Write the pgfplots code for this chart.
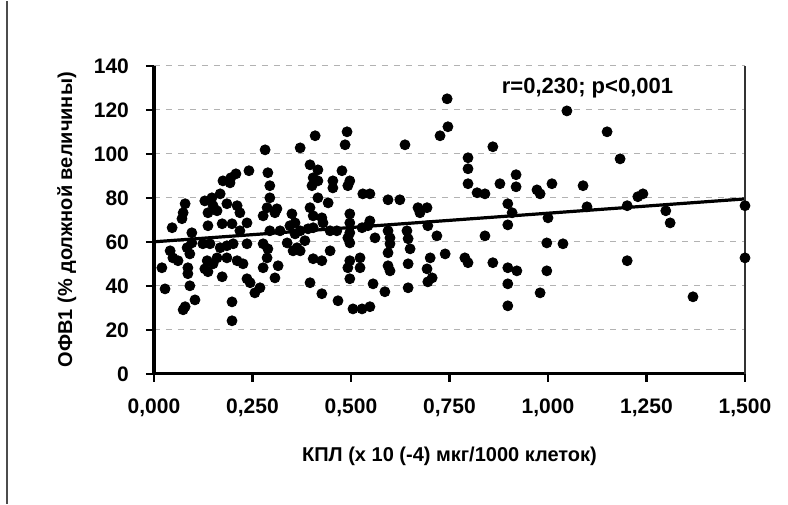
\documentclass[border=0pt]{standalone}
\usepackage{fontspec}
\setmainfont{Liberation Sans}
\usepackage{pgfplots}
\pgfplotsset{compat=1.18}
\usetikzlibrary{calc}

\begin{document}
\begin{tikzpicture}
  \begin{axis}[
      scale only axis,
      width  = 295.5pt,
      height = 154pt,
      xmin = 0, xmax = 1.5,
      ymin = 0, ymax = 140,
      axis line style = {draw=none},
      xtick = {0,0.25,0.5,0.75,1,1.25,1.5},
      xticklabels = {{0,000},{0,250},{0,500},{0,750},{1,000},{1,250},{1,500}},
      ytick = {0,20,40,60,80,100,120,140},
      xtick pos = bottom, ytick pos = left,
      tick align = outside,
      major tick length = 4pt,
      tick style = {black, line width=1.2pt},
      ymajorgrids,
      grid style = {gray!60, dashed, line width=0.5pt},
      /pgf/number format/assume math mode=true,
      ticklabel style = {font=\fontsize{10.5}{12}\selectfont\bfseries},
      yticklabel style = {xshift=-5pt},
      xticklabel style = {yshift=-5pt},
      xlabel = {КПЛ (х 10 (-4) мкг/1000 клеток)},
      ylabel = {ОФВ1 (\% должной величины)},
      label style = {font=\fontsize{10}{12}\selectfont\bfseries},
      xlabel style = {yshift=-8pt},
      ylabel style = {yshift=2pt},
      clip = false,
    ]
    % regression line
    \addplot[black, line width=1.6pt] coordinates {(0,60) (1.5,79.5)};
    % patients
    \addplot[only marks, mark=*, mark size=2.5pt, black] coordinates {
      (0.241,92.3) (0.208,90.9) (0.195,89.1) (0.175,87.7) (0.193,86.8)
      (0.289,91.4) (0.294,85.5) (0.294,80.0) (0.168,81.8) (0.147,80.0)
      (0.129,78.6) (0.150,76.4) (0.137,73.2) (0.160,74.1) (0.185,77.3)
      (0.211,76.4) (0.218,73.2) (0.287,75.5) (0.307,73.2) (0.312,75.0)
      (0.074,73.2) (0.350,72.7) (0.282,101.8) (0.079,77.3) (0.071,70.5)
      (0.277,71.8) (0.137,67.3) (0.173,68.2) (0.198,68.2) (0.236,68.6)
      (0.218,65.0) (0.046,66.4) (0.096,64.1) (0.294,65.0) (0.320,65.0)
      (0.345,67.3) (0.041,55.9) (0.048,52.7) (0.061,51.4) (0.084,57.3)
      (0.096,59.5) (0.091,54.5) (0.124,59.1) (0.142,59.1) (0.168,57.3)
      (0.185,58.2) (0.201,59.1) (0.236,59.1) (0.277,59.1) (0.289,56.8)
      (0.287,52.7) (0.338,59.5) (0.353,55.9) (0.135,51.4) (0.150,50.0)
      (0.160,52.7) (0.185,52.7) (0.211,51.4) (0.226,50.0) (0.020,48.2)
      (0.086,48.2) (0.086,45.5) (0.129,47.7) (0.173,44.1) (0.277,48.2)
      (0.315,49.1) (0.307,43.6) (0.236,43.2) (0.244,41.4) (0.028,38.6)
      (0.091,40.0) (0.269,39.1) (0.079,30.5) (0.104,33.6) (0.074,29.1)
      (0.198,32.7) (0.198,24.1) (0.137,46.4) (0.256,36.8)
      (0.409,108.2) (0.490,110.0) (0.485,104.1) (0.371,102.7) (0.637,104.1)
      (0.726,108.2) (0.396,95.0) (0.416,92.7) (0.404,89.1) (0.401,85.5)
      (0.416,87.7) (0.454,87.7) (0.477,92.3) (0.454,84.5) (0.497,87.7)
      (0.492,85.5) (0.530,81.8) (0.548,81.8) (0.416,80.0) (0.442,77.7)
      (0.594,79.1) (0.624,79.1) (0.670,75.5) (0.693,75.5) (0.396,75.5)
      (0.404,71.8) (0.426,70.9) (0.497,72.7) (0.675,73.2) (0.429,68.6)
      (0.497,68.6) (0.548,69.5) (0.543,67.3) (0.358,68.6) (0.371,65.0)
      (0.391,65.9) (0.404,66.4) (0.358,63.6) (0.383,60.5) (0.363,57.3)
      (0.447,65.0) (0.464,65.0) (0.497,64.1) (0.492,61.8) (0.497,59.5)
      (0.561,61.8) (0.528,66.4) (0.594,65.0) (0.599,61.8) (0.599,59.1)
      (0.645,61.4) (0.650,56.8) (0.642,65.0) (0.695,67.3) (0.718,62.7)
      (0.371,55.9) (0.404,52.3) (0.426,51.4) (0.447,55.9) (0.497,51.4)
      (0.492,48.2) (0.523,52.7) (0.523,48.2) (0.497,43.2) (0.594,55.0)
      (0.594,49.1) (0.599,46.8) (0.645,50.0) (0.701,52.7) (0.693,47.7)
      (0.706,43.6) (0.396,41.4) (0.556,40.9) (0.645,39.1) (0.426,36.4)
      (0.467,33.2) (0.505,29.5) (0.528,29.5) (0.548,30.5) (0.586,37.3)
      (0.695,41.8)
      (0.744,125.0) (0.746,112.3) (1.048,119.5) (0.860,103.2) (0.797,98.2)
      (0.797,93.2) (0.797,86.4) (0.820,82.3) (0.840,81.8) (0.878,86.4)
      (0.919,90.5) (0.919,85.0) (0.972,83.6) (0.980,81.8) (1.010,86.4)
      (1.089,85.5) (0.898,77.3) (1.099,75.9) (0.909,73.2) (0.898,67.7)
      (1.000,70.9) (0.840,62.7) (0.739,54.5) (0.789,52.7) (0.797,50.5)
      (0.860,50.5) (0.898,48.2) (0.921,46.8) (0.997,59.5) (1.038,59.1)
      (0.997,46.8) (0.898,40.9) (0.980,36.8) (0.898,30.9)
      (1.150,110.0) (1.183,97.7) (1.228,80.5) (1.241,81.8) (1.201,76.4)
      (1.299,74.1) (1.310,68.6) (1.500,76.4) (1.201,51.4) (1.368,35.0)
      (1.500,52.7)
    };
    % frame: thick left and bottom, thin right
    \draw[black, line width=1.6pt] (rel axis cs:0,1) -- (rel axis cs:0,0) -- (rel axis cs:1,0);
    \draw[black!80, line width=0.7pt] (rel axis cs:1,0) -- (rel axis cs:1,1);
    \node[anchor=west, font=\fontsize{11}{13}\selectfont\bfseries]
      at (axis cs:0.865,130) {r=0,230; p<0,001};
  \end{axis}
  % page area of the scan
  \path ($(current axis.south west)+(-77pt,-65pt)$) rectangle ($(current axis.north east)+(21.5pt,32.5pt)$);
  \draw[black!70, line width=0.8pt] ($(current axis.south west)+(-73.5pt,-65pt)$) -- ($(current axis.north west)+(-73.5pt,32.5pt)$);
\end{tikzpicture}
\end{document}
